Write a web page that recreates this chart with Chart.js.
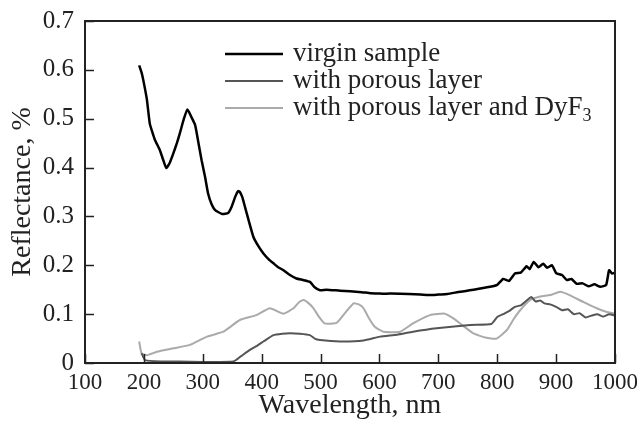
<!DOCTYPE html>
<html><head><meta charset="utf-8">
<script src="https://cdn.jsdelivr.net/npm/chart.js@4.4.1/dist/chart.umd.min.js"></script>
<style>html,body{margin:0;padding:0;background:#fff}#c{display:block}</style>
</head><body>
<canvas id="c" width="637" height="428"></canvas>
<script>
const virginX = [192,196,199,205,210,215,219,227,233,238,244,250,256,261,268,274,280,287,292,298,304,309,315,321,333,343,349,355,360,363,367,370,377,386,395,403,412,420,428,437,448,459,470,482,490,499,510,533,550,570,585,601,620,650,670,691,700,715,737,760,788,800,810,820,830,840,850,855,862,870,878,885,893,900,910,918,926,935,945,955,965,975,985,990,995,1000];
const virginY = [0.609,0.595,0.579,0.54,0.49,0.47,0.456,0.436,0.415,0.399,0.41,0.429,0.45,0.47,0.5,0.519,0.505,0.487,0.455,0.415,0.38,0.347,0.325,0.313,0.305,0.307,0.32,0.34,0.352,0.35,0.34,0.327,0.296,0.258,0.238,0.224,0.212,0.204,0.196,0.19,0.18,0.173,0.17,0.166,0.155,0.149,0.15,0.148,0.147,0.145,0.143,0.142,0.142,0.141,0.14,0.139,0.14,0.141,0.146,0.15,0.156,0.16,0.172,0.168,0.183,0.185,0.198,0.192,0.207,0.196,0.203,0.195,0.2,0.184,0.18,0.17,0.172,0.162,0.163,0.157,0.161,0.156,0.16,0.19,0.183,0.185];
const porousX = [196,202,230,260,300,352,365,380,392,403,420,435,448,465,482,490,499,533,573,601,630,657,697,754,790,800,810,820,830,840,850,858,865,873,880,890,900,910,920,930,940,950,960,970,980,990,1000];
const porousY = [0.02,0.006,0.003,0.003,0.002,0.003,0.014,0.027,0.035,0.044,0.057,0.06,0.061,0.06,0.057,0.05,0.047,0.044,0.046,0.054,0.058,0.064,0.071,0.078,0.08,0.094,0.1,0.106,0.115,0.118,0.128,0.135,0.126,0.128,0.122,0.12,0.115,0.108,0.11,0.1,0.102,0.093,0.097,0.1,0.095,0.1,0.097];
const dyfX = [192,196,205,222,250,278,307,335,363,391,414,437,454,463,471,480,488,497,507,527,540,556,565,573,582,592,607,635,657,686,711,725,737,759,780,799,816,828,839,856,873,890,907,923,946,969,985,1000];
const dyfY = [0.044,0.02,0.016,0.023,0.03,0.037,0.054,0.064,0.088,0.098,0.112,0.101,0.112,0.124,0.129,0.122,0.112,0.095,0.081,0.082,0.1,0.122,0.12,0.112,0.092,0.074,0.064,0.064,0.081,0.098,0.101,0.092,0.081,0.061,0.052,0.05,0.067,0.09,0.108,0.129,0.136,0.139,0.146,0.139,0.125,0.112,0.105,0.101];
const seriesLabels = ['virgin sample','with porous layer','with porous layer and DyF'];
const xTicks = [100,200,300,400,500,600,700,800,900,1000];
const yTicks = [0,0.1,0.2,0.3,0.4,0.5,0.6,0.7];

const pts = (xs, ys) => xs.map((x, i) => ({x, y: ys[i]}));
const FONT = '"Liberation Serif", "Times New Roman", serif';

const frame = {
  id: 'frame',
  afterDraw(chart) {
    const {ctx, chartArea: a, scales: {x, y}} = chart;
    ctx.save();
    ctx.strokeStyle = '#222';
    ctx.lineWidth = 2;
    ctx.strokeRect(a.left, a.top, a.right - a.left, a.bottom - a.top);
    ctx.lineWidth = 1.5;
    ctx.beginPath();
    xTicks.forEach(v => { const p = Math.round(x.getPixelForValue(v)) + 0.5; ctx.moveTo(p, a.bottom); ctx.lineTo(p, a.bottom - 9); });
    yTicks.forEach(v => { const p = Math.round(y.getPixelForValue(v)) + 0.5; ctx.moveTo(a.left, p); ctx.lineTo(a.left + 9, p); });
    ctx.stroke();
    // legend
    const rows = [54, 81, 108];
    chart.data.datasets.forEach((ds, i) => {
      ctx.strokeStyle = ds.borderColor;
      ctx.lineWidth = ds.borderWidth;
      ctx.beginPath(); ctx.moveTo(225, rows[i]); ctx.lineTo(283, rows[i]); ctx.stroke();
      ctx.fillStyle = '#222';
      ctx.font = '27px ' + FONT;
      ctx.textBaseline = 'middle';
      ctx.textAlign = 'left';
      ctx.fillText(ds.label, 293, rows[i]);
      if (i === 2) {
        const w = ctx.measureText(ds.label).width;
        ctx.font = '18px ' + FONT;
        ctx.fillText('3', 293 + w, rows[i] + 8);
      }
    });
    ctx.restore();
  }
};

new Chart(document.getElementById('c'), {
  type: 'line',
  data: {
    datasets: [
      {label: seriesLabels[0], data: pts(virginX, virginY), borderColor: '#000', borderWidth: 2.5},
      {label: seriesLabels[1], data: pts(porousX, porousY), borderColor: '#555', borderWidth: 2},
      {label: seriesLabels[2], data: pts(dyfX, dyfY), borderColor: '#aaa', borderWidth: 2}
    ]
  },
  options: {
    responsive: false,
    animation: false,
    events: [],
    elements: {point: {radius: 0}, line: {tension: 0.15, fill: false}},
    layout: {padding: {top: 21, right: 22, left: 0, bottom: 0}},
    plugins: {legend: {display: false}, tooltip: {enabled: false}},
    scales: {
      x: {
        type: 'linear', min: 100, max: 1000,
        afterBuildTicks: s => { s.ticks = xTicks.map(v => ({value: v})); },
        afterFit: s => { s.height = 65; s.paddingLeft = 0; s.paddingRight = 0; },
        grid: {display: false, drawTicks: false},
        border: {display: false},
        ticks: {color: '#222', font: {family: FONT, size: 23}, padding: 6, maxRotation: 0, autoSkip: false,
          callback: v => String(v)},
        title: {display: true, text: 'Wavelength, nm', color: '#222', font: {family: FONT, size: 28}, padding: {top: 0, bottom: 6}}
      },
      y: {
        type: 'linear', min: 0, max: 0.7,
        afterBuildTicks: s => { s.ticks = yTicks.map(v => ({value: v})); },
        afterFit: s => { s.width = 85; s.paddingTop = 0; s.paddingBottom = 0; },
        grid: {display: false, drawTicks: false},
        border: {display: false},
        ticks: {color: '#222', font: {family: FONT, size: 25}, padding: 11,
          callback: v => v === 0 ? '0' : v.toFixed(1)},
        title: {display: true, text: 'Reflectance, %', color: '#222', font: {family: FONT, size: 28}, padding: {top: 6, bottom: 0}}
      }
    }
  },
  plugins: [frame]
});
</script>
</body></html>
